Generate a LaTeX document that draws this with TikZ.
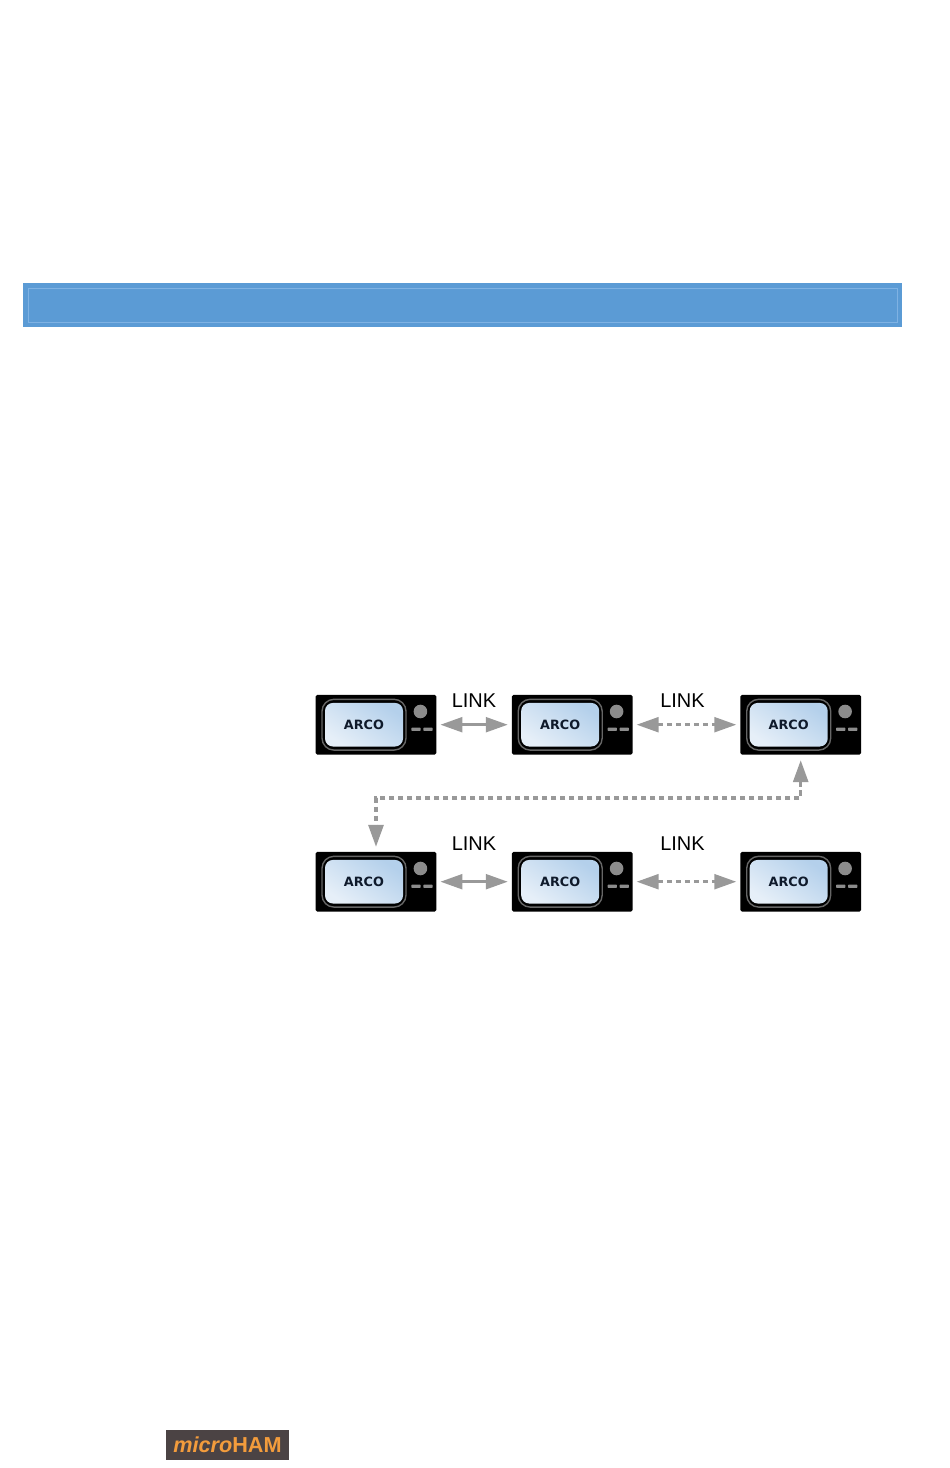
\documentclass[tikz,border=0pt]{standalone}
\usepackage{fontspec}
\setmainfont{Liberation Sans}
\newfontfamily\arcofont{DejaVu Sans}
\usetikzlibrary{arrows.meta}
\definecolor{bannerblue}{HTML}{5B9BD5}
\definecolor{bannerline}{HTML}{7FB2E3}
\definecolor{linkgray}{HTML}{999999}
\definecolor{hamback}{HTML}{4B4344}
\definecolor{hamtext}{HTML}{F39C3C}
\definecolor{arcotext}{HTML}{0F1A2B}
\definecolor{screentop}{HTML}{B4D0EB}
\definecolor{screenlow}{HTML}{E6EFF8}
\begin{document}
\begin{tikzpicture}
  [
  x=0.25mm, y=-0.25mm,
  radio/.style={rectangle, rounded corners=0.4mm, fill=black, minimum width=30.2mm, minimum height=14.9mm, inner sep=0pt, outer sep=1mm},
  bezel/.style={rectangle, rounded corners=3mm, draw=gray!120, line width=0.35mm, fill=black, minimum width=21mm, minimum height=12.7mm, inner sep=0pt},
  screen/.style={rectangle, rounded corners=2mm, top color=screentop, bottom color=screenlow, shading angle=-35, minimum width=19.5mm, minimum height=10.9mm, inner sep=0pt, text=arcotext, font=\arcofont\fontsize{9.1pt}{10pt}\selectfont\bfseries},
  knob/.style={circle, fill=gray!90, minimum size=3.4mm, inner sep=0pt},
  slot/.style={rectangle, rounded corners=0.15mm, fill=gray!90, minimum width=2.3mm, minimum height=0.8mm, inner sep=0pt},
  link/.style={linkgray, line width=0.7mm, {Triangle[length=5.5mm,width=3.7mm]}-{Triangle[length=5.5mm,width=3.7mm]}},
  linked/.style={link, dash pattern=on 1.35mm off 0.9mm},
  linklabel/.style={font=\fontsize{14.2pt}{16pt}\selectfont, inner sep=0pt}
  ]

\useasboundingbox (0,0) rectangle (950,1468);

% banner
\node[rectangle, fill=bannerblue, minimum width=219.75mm, minimum height=11mm, inner sep=0pt] (banner) at (462.5,305) {};
\node[rectangle, draw=bannerline, line width=0.15mm, minimum width=217.25mm, minimum height=8.5mm, inner sep=0pt] (bannerframe) at (462.5,305) {};

\foreach \n/\px/\py in {1/376/724.7, 2/572.2/724.7, 3/800.7/724.7, 4/376/881.7, 5/572.2/881.7, 6/800.7/881.7} {
  \node[radio] (radio\n) at (\px,\py) {};
  \node[bezel] (bezel\n) at ([xshift=-3mm]radio\n.center) {};
  \node[screen] (screen\n) at ([xshift=-3mm]radio\n.center) {ARCO};
  \node[knob] (knob\n) at ([xshift=11.1mm,yshift=3.3mm]radio\n.center) {};
  \node[slot] (slotl\n) at ([xshift=10mm,yshift=-1.15mm]radio\n.center) {};
  \node[slot] (slotr\n) at ([xshift=13mm,yshift=-1.15mm]radio\n.center) {};
}

\node[linklabel] (link1) at (474,700.5) {LINK};
\node[linklabel] (link2) at (682.5,700.5) {LINK};
\node[linklabel] (link3) at (474,844) {LINK};
\node[linklabel] (link4) at (682.5,844) {LINK};

\draw[link] (radio1) -- (radio2);
\draw[linked] (radio2) -- (radio3);
\draw[link] (radio4) -- (radio5);
\draw[linked] (radio5) -- (radio6);

\coordinate (turn) at (590,798);
\draw[linked, line width=0.85mm, shorten <=0.4mm, shorten >=0.25mm] (radio3.south) |- (turn) -| (radio4.north);

% logo
\node[rectangle, fill=hamback, minimum width=30.75mm, minimum height=7.5mm, inner sep=0pt, text=hamtext, font=\fontsize{15.4pt}{16pt}\selectfont\bfseries] (logo) at (227.5,1445) {\textit{micro}HAM};
\end{tikzpicture}
\end{document}
